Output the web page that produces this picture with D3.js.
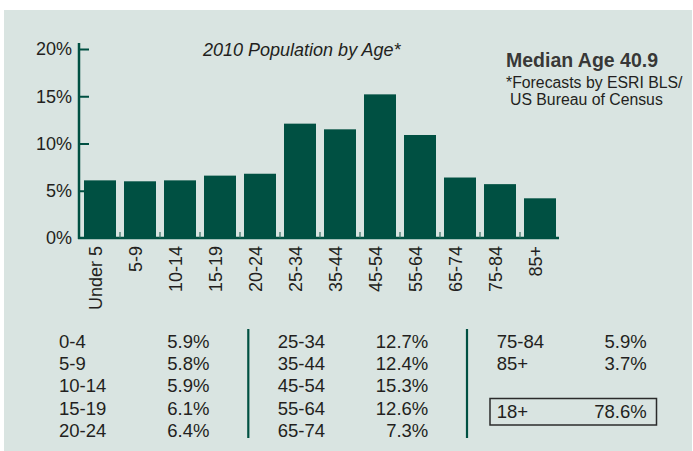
<!DOCTYPE html>
<html>
<head>
<meta charset="utf-8">
<script src="https://cdn.jsdelivr.net/npm/d3@7"></script>
<style>
  body { margin: 0; background: #fff; }
  svg text { font-family: "Liberation Sans", Arial, Helvetica, sans-serif; fill: #231f20; }
</style>
</head>
<body>
<div id="chart"></div>
<script>
// bar chart data
var ageGroups = ["Under 5", "5-9", "10-14", "15-19", "20-24", "25-34",
                 "35-44", "45-54", "55-64", "65-74", "75-84", "85+"];
var popPct = [6.1, 6.0, 6.1, 6.6, 6.8, 12.1, 11.5, 15.2, 10.9, 6.4, 5.7, 4.2];
var yTicks = [0, 5, 10, 15, 20];

// table under the chart
var col1Labels = ["0-4", "5-9", "10-14", "15-19", "20-24"];
var col1Values = ["5.9%", "5.8%", "5.9%", "6.1%", "6.4%"];
var col2Labels = ["25-34", "35-44", "45-54", "55-64", "65-74"];
var col2Values = ["12.7%", "12.4%", "15.3%", "12.6%", "7.3%"];
var col3Labels = ["75-84", "85+"];
var col3Values = ["5.9%", "3.7%"];
var adultLabel = "18+", adultValue = "78.6%";

var W = 693, H = 451;
var green = "#005042";

var svg = d3.select("#chart")
  .append("svg")
    .attr("width", W)
    .attr("height", H);

// panel background
svg.append("rect")
    .attr("x", 4).attr("y", 10)
    .attr("width", 688).attr("height", H - 10)
    .attr("fill", "#d9e4e1");

// scales
var x = d3.scaleBand()
    .domain(ageGroups)
    .range([80, 560])
    .paddingInner(0.2)
    .paddingOuter(0.1);

var y = d3.scaleLinear()
    .domain([0, 20])
    .range([238, 49]);

// bars
svg.selectAll(".bar")
    .data(popPct)
  .enter().append("rect")
    .attr("class", "bar")
    .attr("x", (d, i) => x(ageGroups[i]))
    .attr("width", x.bandwidth())
    .attr("y", d => y(d))
    .attr("height", d => y(0) - y(d))
    .attr("fill", green);

// y axis (ticks point inward)
var yAxis = svg.append("g")
    .attr("transform", "translate(79,0)")
    .call(d3.axisLeft(y).tickValues(yTicks).tickSize(-10).tickPadding(7)
            .tickFormat(d => d + "%"));
yAxis.select(".domain").remove();
yAxis.selectAll(".tick line")
    .attr("stroke", green).attr("stroke-width", 2)
    .filter(d => d === 0).remove();
yAxis.selectAll(".tick text")
    .attr("dy", "0.32em")
    .style("font-size", "18px");

// axis lines
svg.append("line")
    .attr("x1", 79).attr("x2", 79)
    .attr("y1", 43).attr("y2", y(0) + 1)
    .attr("stroke", green).attr("stroke-width", 2.5);
svg.append("line")
    .attr("x1", 78).attr("x2", 559)
    .attr("y1", y(0)).attr("y2", y(0))
    .attr("stroke", green).attr("stroke-width", 2.5);

// small ticks between the bars
var gap = x.step() * x.paddingInner() / 2;
svg.selectAll(".sep")
    .data(ageGroups.slice(1))
  .enter().append("line")
    .attr("class", "sep")
    .attr("x1", d => x(d) - gap).attr("x2", d => x(d) - gap)
    .attr("y1", y(0) - 6).attr("y2", y(0))
    .attr("stroke", "#2f6f60").attr("stroke-width", 1.2);

// x axis labels, rotated
var xAxis = svg.append("g")
    .attr("transform", "translate(0," + y(0) + ")")
    .call(d3.axisBottom(x).tickSize(0).tickPadding(0));
xAxis.select(".domain").remove();
xAxis.selectAll(".tick text")
    .attr("transform", "translate(2,8) rotate(-90)")
    .attr("text-anchor", "end")
    .attr("x", 0).attr("y", 0).attr("dy", 0)
    .style("font-size", "18px");

// titles
svg.append("text")
    .attr("x", 203).attr("y", 56)
    .style("font-size", "18px").style("font-style", "italic")
    .text("2010 Population by Age*");

svg.append("text")
    .attr("x", 506).attr("y", 67)
    .style("font-size", "19.5px").style("font-weight", "bold")
    .attr("fill-opacity", 0.9)
    .text("Median Age 40.9");

svg.append("text")
    .attr("x", 506).attr("y", 87.5)
    .style("font-size", "15.8px")
    .text("*Forecasts by ESRI BLS/");
svg.append("text")
    .attr("x", 510).attr("y", 105)
    .style("font-size", "15.8px")
    .text("US Bureau of Census");

// table
var row = d3.scaleLinear().domain([0, 4]).range([348, 436.7]);
var tableCols = [
  {labels: col1Labels, values: col1Values, lx: 59, vx: 209.5},
  {labels: col2Labels, values: col2Values, lx: 277.7, vx: 428.3},
  {labels: col3Labels, values: col3Values, lx: 496.7, vx: 646.7}
];

tableCols.forEach(function(c) {
  var g = svg.append("g").style("font-size", "18.5px");
  g.selectAll(".lab").data(c.labels).enter().append("text")
      .attr("x", c.lx).attr("y", (d, i) => row(i))
      .text(d => d);
  g.selectAll(".val").data(c.values).enter().append("text")
      .attr("x", c.vx).attr("y", (d, i) => row(i))
      .attr("text-anchor", "end")
      .text(d => d);
});

// dividers
[248.3, 467].forEach(function(dx) {
  svg.append("line")
      .attr("x1", dx).attr("x2", dx)
      .attr("y1", 329).attr("y2", 438)
      .attr("stroke", green).attr("stroke-width", 2.2);
});

// 18+ box
svg.append("rect")
    .attr("x", 490).attr("y", 398.5)
    .attr("width", 166.5).attr("height", 26.5)
    .attr("fill", "none")
    .attr("stroke", "#2b2b2b").attr("stroke-width", 1.5);
svg.append("text")
    .attr("x", 496.7).attr("y", 418.3)
    .style("font-size", "18.5px")
    .text(adultLabel);
svg.append("text")
    .attr("x", 646.7).attr("y", 418.3)
    .attr("text-anchor", "end")
    .style("font-size", "18.5px")
    .text(adultValue);
</script>
</body>
</html>
